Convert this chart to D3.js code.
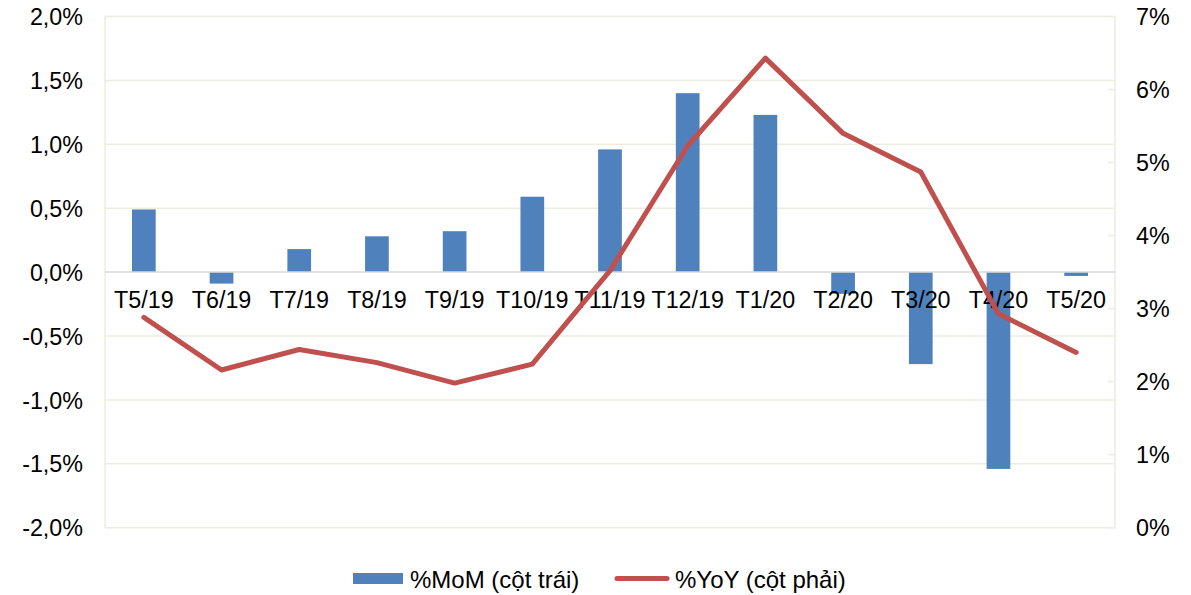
<!DOCTYPE html>
<html>
<head>
<meta charset="utf-8">
<script src="https://cdn.jsdelivr.net/npm/d3@7"></script>
<style>
  html, body { margin: 0; padding: 0; background: #ffffff; }
  svg { display: block; font-family: "Liberation Sans", Arial, sans-serif; }
</style>
</head>
<body>
<svg id="chart" width="1191" height="595"></svg>
<script>
const categories = ["T5/19","T6/19","T7/19","T8/19","T9/19","T10/19","T11/19","T12/19","T1/20","T2/20","T3/20","T4/20","T5/20"];
const momValues = [0.49, -0.09, 0.18, 0.28, 0.32, 0.59, 0.96, 1.40, 1.23, -0.17, -0.72, -1.54, -0.03];
const yoyValues = [2.88, 2.16, 2.44, 2.26, 1.98, 2.24, 3.52, 5.23, 6.43, 5.40, 4.87, 2.93, 2.40];
const leftTicks = [-2.0, -1.5, -1.0, -0.5, 0.0, 0.5, 1.0, 1.5, 2.0];
const rightTicks = [0, 1, 2, 3, 4, 5, 6, 7];
const legendLabels = ["%MoM (cột trái)", "%YoY (cột phải)"];

const svg = d3.select("#chart");
const plot = { left: 105, right: 1115, top: 16.5, bottom: 527.7 };
const FONT = 23.3;
const LEGEND_FONT = 24;
const gridColor = "#EEECE1";
const barColor = "#4F81BD";
const lineColor = "#C0504D";

const x = d3.scaleBand().domain(categories).range([plot.left, plot.right]).paddingInner(0).paddingOuter(0);
const yL = d3.scaleLinear().domain([-2, 2]).range([plot.bottom, plot.top]);
const yR = d3.scaleLinear().domain([0, 7]).range([plot.bottom, plot.top]);

// gridlines
svg.append("g").selectAll("line").data(leftTicks.filter(d => d !== 0)).join("line")
  .attr("x1", plot.left).attr("x2", plot.right)
  .attr("y1", d => yL(d)).attr("y2", d => yL(d))
  .attr("stroke", gridColor).attr("stroke-width", 1.5);

// vertical axis lines
svg.append("line").attr("x1", plot.left).attr("x2", plot.left).attr("y1", plot.top).attr("y2", plot.bottom)
  .attr("stroke", gridColor).attr("stroke-width", 1.5);
svg.append("line").attr("x1", plot.right).attr("x2", plot.right).attr("y1", plot.top).attr("y2", plot.bottom)
  .attr("stroke", gridColor).attr("stroke-width", 1.5);

// right axis inward ticks
svg.append("g").selectAll("line").data(rightTicks).join("line")
  .attr("x1", plot.right - 7).attr("x2", plot.right)
  .attr("y1", d => yR(d)).attr("y2", d => yR(d))
  .attr("stroke", gridColor).attr("stroke-width", 1.5);

// bars
const barW = x.bandwidth() * 0.305;
svg.append("g").selectAll("rect").data(momValues).join("rect")
  .attr("x", (d, i) => x(categories[i]) + x.bandwidth() / 2 - barW / 2)
  .attr("width", barW)
  .attr("y", d => d >= 0 ? yL(d) : yL(0))
  .attr("height", d => Math.abs(yL(d) - yL(0)))
  .attr("fill", barColor);

// zero line
svg.append("line").attr("x1", plot.left).attr("x2", plot.right)
  .attr("y1", yL(0)).attr("y2", yL(0))
  .attr("stroke", "#D9D9D9").attr("stroke-width", 1.5);

// left axis labels
const fmtL = d => d.toFixed(1).replace(".", ",") + "%";
const axL = svg.append("g").attr("transform", `translate(83,0)`)
  .call(d3.axisLeft(yL).tickValues(leftTicks).tickFormat(fmtL).tickSize(0).tickPadding(0));
axL.select(".domain").remove();
axL.selectAll("text").attr("font-size", FONT).attr("fill", "#000").attr("font-family", "Liberation Sans, Arial, sans-serif").attr("dy", "0.35em");

// right axis labels
const axR = svg.append("g").attr("transform", `translate(1136,0)`)
  .call(d3.axisRight(yR).tickValues(rightTicks).tickFormat(d => d + "%").tickSize(0).tickPadding(0));
axR.select(".domain").remove();
axR.selectAll("text").attr("font-size", FONT).attr("fill", "#000").attr("font-family", "Liberation Sans, Arial, sans-serif").attr("dy", "0.35em");

// category labels (next to zero axis)
const axX = svg.append("g").attr("transform", `translate(0,${yL(0)})`)
  .call(d3.axisBottom(x).tickSize(0).tickPadding(0));
axX.select(".domain").remove();
axX.selectAll("text").attr("font-size", FONT).attr("fill", "#000").attr("font-family", "Liberation Sans, Arial, sans-serif")
  .attr("y", 35.5).attr("dy", 0);

// YoY line
const line = d3.line()
  .x((d, i) => x(categories[i]) + x.bandwidth() / 2)
  .y(d => yR(d));
svg.append("path").datum(yoyValues)
  .attr("d", line).attr("fill", "none")
  .attr("stroke", lineColor).attr("stroke-width", 5)
  .attr("stroke-linejoin", "round").attr("stroke-linecap", "round");

// legend
const lg = svg.append("g");
lg.append("rect").attr("x", 353).attr("y", 573).attr("width", 50).attr("height", 11).attr("fill", barColor);
lg.append("text").attr("x", 410).attr("y", 588).attr("font-size", LEGEND_FONT).attr("fill", "#000").text(legendLabels[0]);
lg.append("line").attr("x1", 617).attr("x2", 667).attr("y1", 578.5).attr("y2", 578.5)
  .attr("stroke", lineColor).attr("stroke-width", 5).attr("stroke-linecap", "round");
lg.append("text").attr("x", 675).attr("y", 588).attr("font-size", LEGEND_FONT).attr("fill", "#000").text(legendLabels[1]);
</script>
</body>
</html>
